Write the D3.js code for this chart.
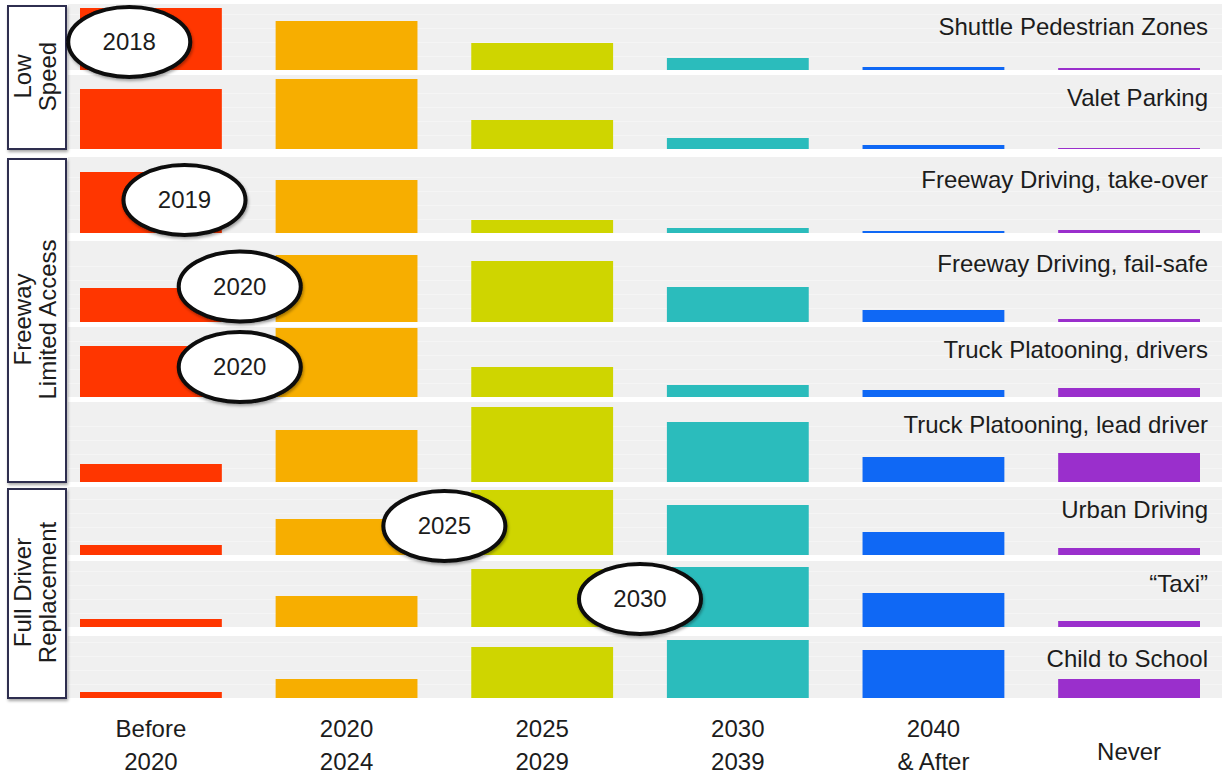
<!DOCTYPE html>
<html>
  <head>
    <style>
    body {
      font-family: "Liberation Sans", Arial, sans-serif;
      margin: 0;
      background: #fff;
    }
    </style>
  </head>
  <body>
    <script src="https://d3js.org/d3.v7.min.js"></script>
    <script>

    // periods on the x axis
    var periods = ["Before 2020", "2020-2024", "2025-2029", "2030-2039", "2040 & After", "Never"];
    var periodLines = [["Before", "2020"], ["2020", "2024"], ["2025", "2029"], ["2030", "2039"], ["2040", "& After"], ["Never"]];
    var periodColors = ["#ff3600", "#f7ae00", "#cfd500", "#2bbcbc", "#0f68f5", "#9a2fcc"];

    // one row per driving task
    var tasks = ["Shuttle Pedestrian Zones", "Valet Parking", "Freeway Driving, take-over",
                 "Freeway Driving, fail-safe", "Truck Platooning, drivers", "Truck Platooning, lead driver",
                 "Urban Driving", "\u201CTaxi\u201D", "Child to School"];

    // share of answers per period
    var shuttle   = [62, 49, 27, 12, 3, 2];
    var valet     = [60, 70, 29, 11, 4, 1];
    var takeOver  = [61, 53, 13, 5, 2, 3];
    var failSafe  = [34, 67, 61, 35, 12, 3];
    var platoonD  = [51, 69, 30, 12, 7, 9];
    var platoonL  = [18, 52, 75, 60, 25, 29];
    var urban     = [10, 36, 65, 50, 23, 7];
    var taxi      = [8, 31, 58, 60, 34, 6];
    var school    = [6, 19, 51, 58, 48, 19];
    var values = [shuttle, valet, takeOver, failSafe, platoonD, platoonL, urban, taxi, school];

    // median year marked in the ellipses (null = none)
    var medianYear = [2018, null, 2019, 2020, 2020, null, 2025, 2030, null];

    var groupLines = [["Low", "Speed"], ["Freeway", "Limited Access"], ["Full Driver", "Replacement"]];
    var groupRows = [[0, 1], [2, 5], [6, 8]];

    var width = 1225, height = 776;

    // row panel layout
    var panelTop    = [4, 75, 157, 241, 327, 402, 487, 561, 636];
    var panelBottom = [70, 149, 233, 322, 397, 482, 555, 627, 698];
    var panelLeft = 68, panelRight = 1222;

    var svg = d3.select("body").append("svg")
        .attr("width", width)
        .attr("height", height);

    var defs = svg.append("defs");
    var shadow = defs.append("filter").attr("id", "shadow")
        .attr("x", "-20%").attr("y", "-20%").attr("width", "140%").attr("height", "150%");
    shadow.append("feDropShadow")
        .attr("dx", 1).attr("dy", 2).attr("stdDeviation", 1.8)
        .attr("flood-color", "#000").attr("flood-opacity", 0.35);

    var x = d3.scaleBand()
        .domain(periods)
        .range([80, 1200])
        .paddingInner(0.275)
        .paddingOuter(0);

    var h = d3.scaleLinear().domain([0, 100]).range([0, 100]);

    var rows = svg.selectAll(".row")
        .data(tasks)
      .enter().append("g")
        .attr("class", "row");

    rows.append("rect")
        .attr("x", panelLeft)
        .attr("y", function(d, i){ return panelTop[i]; })
        .attr("width", panelRight - panelLeft)
        .attr("height", function(d, i){ return panelBottom[i] - panelTop[i]; })
        .style("fill", "#f0f0f0");

    // faint grid inside each panel
    rows.each(function(d, i){
      d3.select(this).selectAll(".grid")
          .data([14, 28, 42, 56].filter(function(v){ return h(v) < panelBottom[i] - panelTop[i] - 4; }))
        .enter().append("line")
          .attr("class", "grid")
          .attr("x1", panelLeft)
          .attr("x2", panelRight)
          .attr("y1", function(v){ return panelBottom[i] - h(v) + 0.5; })
          .attr("y2", function(v){ return panelBottom[i] - h(v) + 0.5; })
          .style("stroke", "#f5f5f5")
          .style("stroke-width", 1);
    });

    rows.selectAll(".bar")
        .data(function(d, i){ return values[i].map(function(v, j){ return {row: i, period: periods[j], color: periodColors[j], v: v}; }); })
      .enter().append("rect")
        .attr("class", "bar")
        .attr("x", function(d){ return x(d.period); })
        .attr("y", function(d){ return panelBottom[d.row] - h(d.v); })
        .attr("width", x.bandwidth())
        .attr("height", function(d){ return h(d.v); })
        .style("fill", function(d){ return d.color; });

    rows.append("text")
        .attr("x", 1208)
        .attr("y", function(d, i){ return panelTop[i] + 31; })
        .attr("text-anchor", "end")
        .style("font-size", "24px")
        .style("fill", "#1c1c1c")
        .text(function(d){ return d; });

    // group boxes on the left
    var groups = svg.selectAll(".group")
        .data(groupLines)
      .enter().append("g")
        .attr("class", "group");

    groups.append("rect")
        .attr("x", 8)
        .attr("y", function(d, i){ return panelTop[groupRows[i][0]] + 2; })
        .attr("width", 58)
        .attr("height", function(d, i){ return panelBottom[groupRows[i][1]] - panelTop[groupRows[i][0]] - 2; })
        .attr("filter", "url(#shadow)")
        .style("fill", "#fff")
        .style("stroke", "#2d2d50")
        .style("stroke-width", 2);

    groups.append("text")
        .attr("transform", function(d, i){
          var cy = (panelTop[groupRows[i][0]] + panelBottom[groupRows[i][1]]) / 2;
          return "translate(" + 31 + "," + cy + ") rotate(-90)";
        })
        .attr("text-anchor", "middle")
        .style("font-size", "24px")
        .style("fill", "#1c1c1c")
        .selectAll("tspan")
        .data(function(d){ return d; })
      .enter().append("tspan")
        .attr("x", 0)
        .attr("dy", function(d, j){ return j === 0 ? 0 : 25; })
        .text(function(d){ return d; });

    // x axis labels
    var ticks = svg.selectAll(".tick")
        .data(periods)
      .enter().append("text")
        .attr("class", "tick")
        .attr("x", function(d){ return x(d) + x.bandwidth() / 2; })
        .attr("y", function(d, i){ return periodLines[i].length === 1 ? 760 : 737; })
        .attr("text-anchor", "middle")
        .style("font-size", "24px")
        .style("font-stretch", "condensed")
        .style("fill", "#1c1c1c");

    ticks.selectAll("tspan")
        .data(function(d, i){ return periodLines[i]; })
      .enter().append("tspan")
        .attr("x", function(){ var p = d3.select(this.parentNode).datum(); return x(p) + x.bandwidth() / 2; })
        .attr("dy", function(d, j){ return j === 0 ? 0 : 33; })
        .text(function(d){ return d; });

    // median year ellipses: year placed on the period boundaries
    var gap = function(i){ return x(periods[i]) - x.step() * x.paddingInner() / 2; };
    var yearX = d3.scaleLinear()
        .domain([2017, 2020, 2025, 2030])
        .range([x(periods[0]) - 6, gap(1) - 9, gap(2), gap(3)]);

    var marks = svg.selectAll(".mark")
        .data(medianYear.map(function(y, i){ return {row: i, year: y}; }).filter(function(d){ return d.year !== null; }))
      .enter().append("g")
        .attr("class", "mark")
        .attr("transform", function(d){
          return "translate(" + yearX(d.year) + "," + ((panelTop[d.row] + panelBottom[d.row]) / 2 + 5) + ")";
        });

    marks.append("ellipse")
        .attr("rx", 61)
        .attr("ry", 35)
        .attr("filter", "url(#shadow)")
        .style("fill", "#fff")
        .style("stroke", "#0a0a0a")
        .style("stroke-width", 4);

    marks.append("text")
        .attr("text-anchor", "middle")
        .attr("dy", 8)
        .style("font-size", "24px")
        .style("fill", "#1c1c1c")
        .text(function(d){ return d.year; });

    </script>
  </body>
</html>
